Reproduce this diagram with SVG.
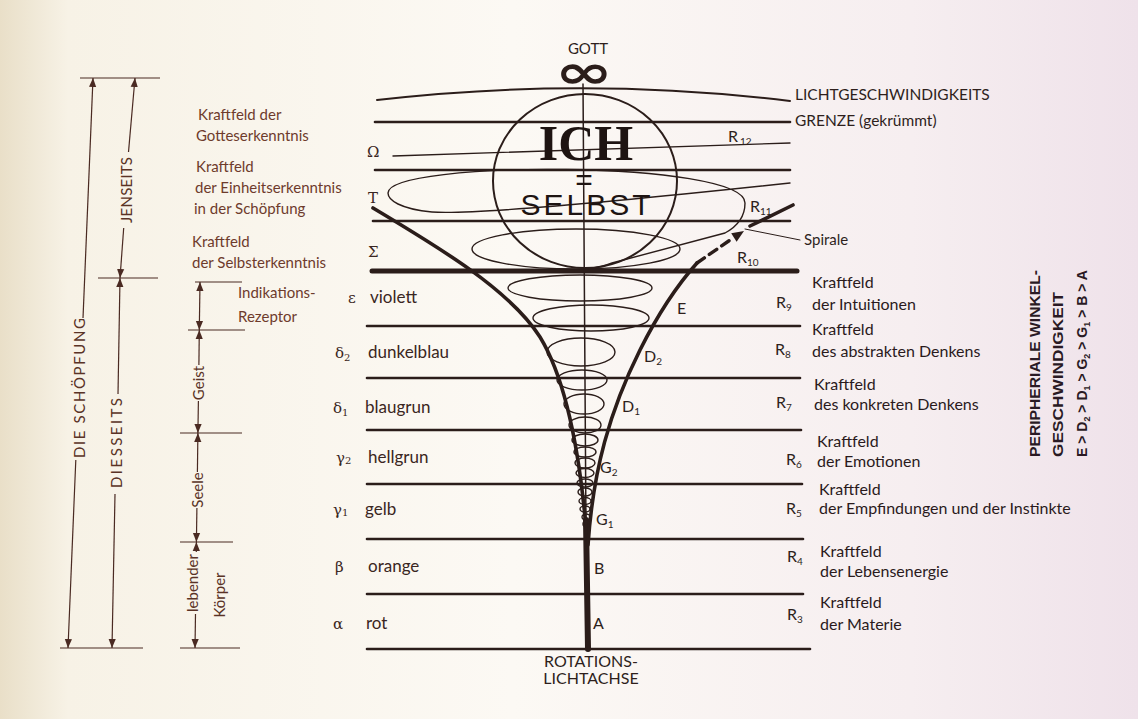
<svg xmlns="http://www.w3.org/2000/svg" width="1138" height="719" viewBox="0 0 1138 719">
<defs>
<linearGradient id="bg" x1="0" y1="0" x2="1" y2="0">
<stop offset="0" stop-color="#e9dfc8"/>
<stop offset="0.06" stop-color="#f7f2e6"/>
<stop offset="0.45" stop-color="#fcf9f4"/>
<stop offset="0.8" stop-color="#f6eef0"/>
<stop offset="1" stop-color="#efe2ea"/>
</linearGradient>
<marker id="ah" viewBox="0 0 10 10" refX="10" refY="5" markerWidth="9" markerHeight="9" markerUnits="userSpaceOnUse" orient="auto-start-reverse"><path d="M0,1 L10,5 L0,9 Z" fill="#4a2a22"/></marker>
</defs>
<style>
.ln{stroke:#2b1d1a;fill:none;stroke-linecap:round}
.band{stroke-width:2.6}
.thin{stroke-width:1.4}
.wall{stroke-width:3.6}
.dim{stroke:#4a2a22;stroke-width:1.2;fill:none}
.t{font-family:Lato,"Liberation Sans",sans-serif;fill:#2e1f1c}
.lt{font-size:15px;fill:#6e3b2c}
.rt{font-size:16px;fill:#2a1a1c}
.col{font-size:17px;fill:#3a2622}
.gr{font-family:"DejaVu Serif","Liberation Serif",serif;font-size:15px;fill:#3a2622}
.cl{font-size:16px;fill:#2e1f1c}
.dt{font-size:15px;fill:#5a3326}
.vt{font-family:"Liberation Sans",sans-serif;font-weight:bold;font-size:14px;fill:#2a1a24}
.sub{font-size:10px}
</style>
<rect width="1138" height="719" fill="url(#bg)"/>

<g id="connectors">
<path class="ln" stroke-width="2" d="M377,100 Q585,76 790,101"/>
<path class="ln band" d="M375,122 L790,122"/>
<path class="ln thin" d="M393,156 L790,143"/>
<path class="ln band" d="M375,170 L790,170"/>
<path class="ln band" d="M373,221 L790,221"/>
<path class="ln" stroke-width="5" d="M372,271 L797,271"/>
<path class="ln band" d="M367,326 L800,326"/>
<path class="ln band" d="M367,378 L800,378"/>
<path class="ln band" d="M367,430 L801,430"/>
<path class="ln band" d="M367,484 L802,484"/>
<path class="ln band" d="M367,539 L803,539"/>
<path class="ln band" d="M367,594 L803,594"/>
<path class="ln band" d="M367,649 L810,649"/>
<path class="ln" stroke-width="1.5" d="M583,84 L586,530"/>
<path class="ln" stroke-width="6" stroke-linecap="butt" d="M586,520 L588,649"/>
<path class="ln wall" d="M373,208 C440,248 510,290 540,337 C565,378 580,450 587,540"/>
<path class="ln wall" d="M588,545 C593,470 610,410 640,350 C660,310 680,282 697,263"/>
<path class="ln" stroke-width="3.4" stroke-dasharray="9,6" d="M697,263 L733,238"/>
<polygon points="744,231 736.6,241.7 731.2,233.3" fill="#2b1d1a"/>
<path class="ln wall" d="M750,226 L793,205"/>
<path class="ln thin" d="M790,183 C640,199 470,215 432,212 C400,209 388,200 388,193 C388,160 745,160 745,203 C745,216 738,226 725,233 L612,263 Q600,268 585,269"/>
<ellipse class="ln thin" cx="576" cy="249" rx="104" ry="20"/>
<ellipse class="ln thin" cx="580" cy="288" rx="72" ry="13"/>
<ellipse class="ln thin" cx="591" cy="318" rx="58" ry="13"/>
<ellipse class="ln thin" cx="581" cy="352" rx="34" ry="14"/>
<ellipse class="ln thin" cx="582" cy="380" rx="25" ry="10"/>
<ellipse class="ln thin" cx="584" cy="404" rx="20" ry="10"/>
<ellipse class="ln thin" cx="585" cy="425" rx="16" ry="8"/>
<ellipse class="ln thin" cx="585" cy="440" rx="13" ry="6"/>
<ellipse class="ln thin" cx="585" cy="452" rx="11" ry="5"/>
<ellipse class="ln thin" cx="585" cy="463" rx="10" ry="5"/>
<ellipse class="ln thin" cx="585" cy="473" rx="9" ry="4.5"/>
<ellipse class="ln thin" cx="585" cy="483" rx="8" ry="4"/>
<ellipse class="ln thin" cx="585" cy="492" rx="7" ry="4"/>
<ellipse class="ln thin" cx="585" cy="501" rx="6" ry="3.5"/>
<ellipse class="ln thin" cx="585" cy="509" rx="5" ry="3"/>
<ellipse class="ln thin" cx="586" cy="517" rx="4" ry="3"/>
<ellipse class="ln thin" cx="586" cy="524" rx="3" ry="2.5"/>
<path class="ln" stroke-width="1" d="M745,229 L800,240"/>
<path class="dim" d="M80,78 L160,78 M98,278 L158,278 M60,648 L143,648"/>
<path class="dim" d="M83,318 L93,78" marker-end="url(#ah)"/>
<path class="dim" d="M75.8,460 L68,648" marker-end="url(#ah)"/>
<path class="dim" d="M128.5,152 L135,78" marker-end="url(#ah)"/>
<path class="dim" d="M123.7,228 L120,278" marker-end="url(#ah)"/>
<path class="dim" d="M118,394 L120,278" marker-end="url(#ah)"/>
<path class="dim" d="M115,494 L112,648" marker-end="url(#ah)"/>
<path class="dim" d="M195,282 L242,282 M188,330 L245,330 M180,433 L242,433 M180,542 L233,542 M180,648 L240,648"/>
<path class="dim" d="M200,282 L199.3,330" marker-start="url(#ah)" marker-end="url(#ah)"/>
<path class="dim" d="M199.3,330 L198.9,365" marker-start="url(#ah)"/>
<path class="dim" d="M198.4,401 L197.9,433" marker-end="url(#ah)"/>
<path class="dim" d="M197.9,433 L197.4,472" marker-start="url(#ah)"/>
<path class="dim" d="M196.9,508 L196.4,542" marker-end="url(#ah)"/>
<path class="dim" d="M196.4,542 L196.3,552" marker-start="url(#ah)"/>
<path class="dim" d="M195.5,614 L195,648" marker-end="url(#ah)"/>
</g>

<g id="gott">
<text class="t" x="588" y="54" font-size="15" text-anchor="middle">GOTT</text>
<text transform="translate(584,88) scale(1.35,0.9)" font-family="DejaVu Sans,sans-serif" font-weight="bold" font-size="52" text-anchor="middle" fill="#2b1d1a">∞</text>
</g>

<g id="ich-selbst">
<ellipse class="ln" stroke-width="2" cx="585" cy="181" rx="92" ry="87"/>
<text x="586" y="160" font-family="Liberation Serif,serif" font-weight="bold" font-size="50" text-anchor="middle" fill="#1e1412">ICH</text>
<text x="584" y="190" font-family="Liberation Sans,sans-serif" font-size="30" text-anchor="middle" fill="#1e1412">=</text>
<text x="587" y="215" font-family="Liberation Sans,sans-serif" font-size="30" letter-spacing="3" text-anchor="middle" fill="#1e1412">SELBST</text>
</g>

<g id="lichtgrenze">
<text class="t" x="795" y="100" font-size="15.5">LICHTGESCHWINDIGKEITS</text>
<text class="t" x="795" y="126" font-size="15.5">GRENZE (gekrümmt)</text>
</g>

<g id="r-upper">
<text class="t cl" x="728" y="142">R<tspan class="sub" dx="2" dy="3">12</tspan></text>
<text class="t cl" x="750" y="212">R<tspan class="sub" dy="3">11</tspan></text>
<text class="t cl" x="737" y="263">R<tspan class="sub" dy="3">10</tspan></text>
<text class="t" x="804" y="245" font-size="15">Spirale</text>
</g>

<g id="greek-upper">
<text class="gr" x="367" y="157">Ω</text>
<text class="gr" x="368" y="203">T</text>
<text class="gr" x="368" y="257">Σ</text>
</g>

<g id="left-fields">
<text class="t lt" x="198" y="120">Kraftfeld der</text>
<text class="t lt" x="196" y="141">Gotteserkenntnis</text>
<text class="t lt" x="196" y="172">Kraftfeld</text>
<text class="t lt" x="195" y="193">der Einheitserkenntnis</text>
<text class="t lt" x="194" y="214">in der Schöpfung</text>
<text class="t lt" x="192" y="247">Kraftfeld</text>
<text class="t lt" x="192" y="268">der Selbsterkenntnis</text>
<text class="t lt" x="238" y="298">Indikations-</text>
<text class="t lt" x="238" y="322">Rezeptor</text>
</g>

<g id="colors">
<text class="gr" x="348" y="303">ε</text><text class="t col" x="370" y="303">violett</text>
<text class="gr" x="335" y="358">δ<tspan class="sub" dy="3">2</tspan></text><text class="t col" x="368" y="358">dunkelblau</text>
<text class="gr" x="333" y="413">δ<tspan class="sub" dy="3">1</tspan></text><text class="t col" x="365" y="413">blaugrun</text>
<text class="gr" x="336" y="463">γ<tspan class="sub" dy="1">2</tspan></text><text class="t col" x="368" y="463">hellgrun</text>
<text class="gr" x="333" y="515">γ<tspan class="sub" dy="1">1</tspan></text><text class="t col" x="365" y="515">gelb</text>
<text class="gr" x="335" y="572">β</text><text class="t col" x="368" y="572">orange</text>
<text class="gr" x="333" y="629">α</text><text class="t col" x="366" y="629">rot</text>
</g>

<g id="cone-labels">
<text class="t cl" x="677" y="314">E</text>
<text class="t cl" x="644" y="362">D<tspan class="sub" dy="3">2</tspan></text>
<text class="t cl" x="622" y="412">D<tspan class="sub" dy="3">1</tspan></text>
<text class="t cl" x="600" y="473">G<tspan class="sub" dy="3">2</tspan></text>
<text class="t cl" x="596" y="525">G<tspan class="sub" dy="3">1</tspan></text>
<text class="t cl" x="594" y="574">B</text>
<text class="t cl" x="593" y="629">A</text>
<text class="t" x="591" y="667" font-size="16" text-anchor="middle">ROTATIONS-</text>
<text class="t" x="591" y="684" font-size="16" text-anchor="middle">LICHTACHSE</text>
</g>

<g id="right-fields">
<text class="t cl" x="776" y="308">R<tspan class="sub" dy="3">9</tspan></text>
<text class="t rt" x="812" y="288">Kraftfeld</text>
<text class="t rt" x="812" y="310">der Intuitionen</text>
<text class="t cl" x="775" y="355">R<tspan class="sub" dy="3">8</tspan></text>
<text class="t rt" x="812" y="335">Kraftfeld</text>
<text class="t rt" x="812" y="357">des abstrakten Denkens</text>
<text class="t cl" x="776" y="408">R<tspan class="sub" dy="3">7</tspan></text>
<text class="t rt" x="814" y="390">Kraftfeld</text>
<text class="t rt" x="814" y="410">des konkreten Denkens</text>
<text class="t cl" x="786" y="465">R<tspan class="sub" dy="3">6</tspan></text>
<text class="t rt" x="817" y="447">Kraftfeld</text>
<text class="t rt" x="817" y="467">der Emotionen</text>
<text class="t cl" x="786" y="514">R<tspan class="sub" dy="3">5</tspan></text>
<text class="t rt" x="819" y="495">Kraftfeld</text>
<text class="t rt" x="819" y="514">der Empfindungen und der Instinkte</text>
<text class="t cl" x="787" y="562">R<tspan class="sub" dy="3">4</tspan></text>
<text class="t rt" x="820" y="557">Kraftfeld</text>
<text class="t rt" x="820" y="577">der Lebensenergie</text>
<text class="t cl" x="787" y="620">R<tspan class="sub" dy="3">3</tspan></text>
<text class="t rt" x="820" y="608">Kraftfeld</text>
<text class="t rt" x="820" y="630">der Materie</text>
</g>

<g id="velocity">
<text class="vt" transform="translate(1040,457) rotate(-90)" textLength="187" lengthAdjust="spacingAndGlyphs">PERIPHERIALE WINKEL-</text>
<text class="vt" transform="translate(1063,457) rotate(-90)" textLength="165" lengthAdjust="spacingAndGlyphs">GESCHWINDIGKEIT</text>
<text class="vt" transform="translate(1087,457) rotate(-90)">E &gt; D<tspan font-size="9" dy="3">2</tspan><tspan dy="-3"> &gt; D</tspan><tspan font-size="9" dy="3">1</tspan><tspan dy="-3"> &gt; G</tspan><tspan font-size="9" dy="3">2</tspan><tspan dy="-3"> &gt; G</tspan><tspan font-size="9" dy="3">1</tspan><tspan dy="-3"> &gt; B &gt; A</tspan></text>
</g>

<g id="dimensions">
<text class="t dt" transform="translate(85,388) rotate(-90)" text-anchor="middle" textLength="140">DIE SCHÖPFUNG</text>
<text class="t dt" transform="translate(131.5,190) rotate(-90)" text-anchor="middle" textLength="66">JENSEITS</text>
<text class="t dt" transform="translate(121.5,443) rotate(-90)" text-anchor="middle" textLength="90">DIESSEITS</text>
<text class="t dt" transform="translate(203.5,383) rotate(-90)" text-anchor="middle" font-size="14">Geist</text>
<text class="t dt" transform="translate(202.5,490) rotate(-90)" text-anchor="middle" font-size="14">Seele</text>
<text class="t dt" transform="translate(197.5,583) rotate(-90)" text-anchor="middle" font-size="14">lebender</text>
<text class="t dt" transform="translate(225,595) rotate(-90)" text-anchor="middle" font-size="14">Körper</text>
</g>
</svg>
